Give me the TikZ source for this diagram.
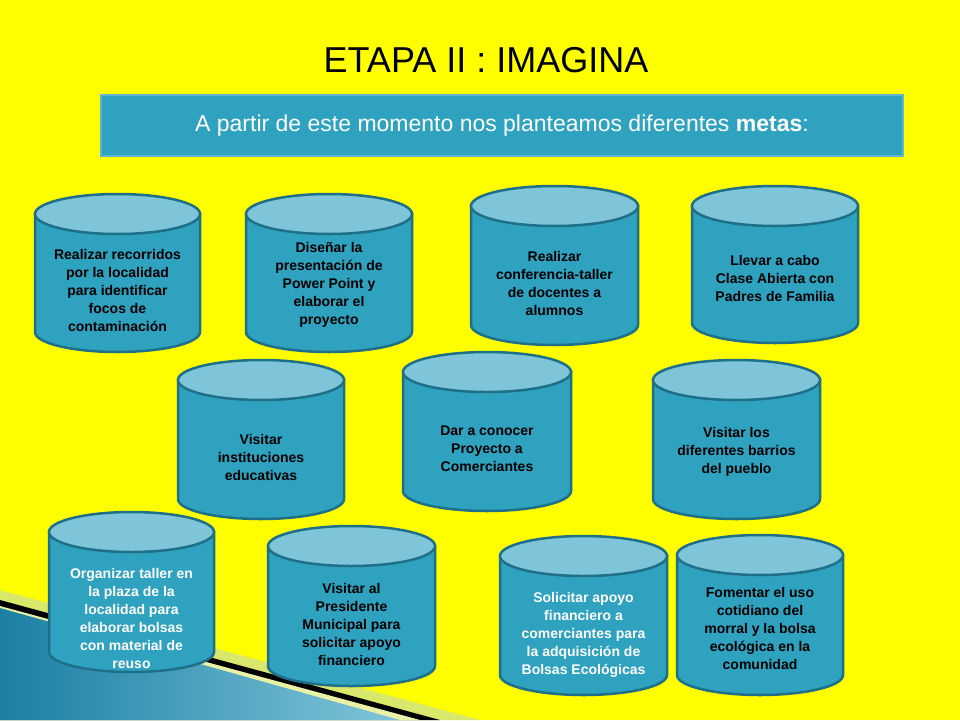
\documentclass[tikz,border=0pt]{standalone}
\usepackage{fontspec}
\setmainfont{Liberation Sans}
\begin{document}
\begin{tikzpicture}[x=1pt,y=-1pt,
  cylbody/.style={fill=cylblue,draw=cyledge,line width=2.5pt},
  cyltop/.style={fill=cyltopc,draw=cyledge,line width=2.5pt},
  cyltext/.style={font=\bfseries\fontsize{14}{18}\selectfont,align=center}]
\definecolor{bgy}{HTML}{FFFF00}
\definecolor{cylblue}{HTML}{2FA2C0}
\definecolor{cyltopc}{HTML}{7FC5D9}
\definecolor{cyledge}{HTML}{1E6F87}
\definecolor{bandblue}{HTML}{1C7FA3}
\definecolor{bandlight}{HTML}{D9E86A}
\useasboundingbox (0,0) rectangle (960,720);
\fill[bgy] (0,0) rectangle (960,720);
% bottom-left decoration
\fill[bandlight] (0,590) -- (480,720) -- (0,720) -- cycle;
\fill[black] (0,600) -- (440,720) -- (0,720) -- cycle;
\fill[bandlight!60!white] (0,606) -- (420,720) -- (0,720) -- cycle;
\shade[left color=bandblue, right color=cyltopc] (0,608) -- (400,720) -- (0,720) -- cycle;
\node (title) at (486,60) {\fontsize{36}{42}\selectfont ETAPA II : IMAGINA};
\node[draw=cyltopc!60!cylblue,line width=2pt,fill=cylblue,minimum width=802pt,minimum height=61pt,text=white,font=\fontsize{23}{27}\selectfont] (banner) at (502,125.5) {A partir de este momento nos planteamos diferentes \textbf{metas}:};
\newcommand{\cylnd}[8]{%
  \pgfmathsetmacro{\cx}{(#2+#3)/2}\pgfmathsetmacro{\rx}{(#3-#2)/2}
  \pgfmathsetmacro{\ty}{#4+20}\pgfmathsetmacro{\by}{#5-20}
  \path[cylbody] (#2,\ty) -- (#2,\by) arc[start angle=180,end angle=360,x radius=\rx,y radius=-20] -- (#3,\ty) -- cycle;
  \path[cyltop] (\cx,\ty) ellipse[x radius=\rx,y radius=20];
  \node[cyltext,text=#6] (#1) at (\cx,#7) {#8};}
\cylnd{c1}{35}{200}{194}{352}{black}{290}{Realizar recorridos\\por la localidad\\para identificar\\focos de\\contaminación}
\cylnd{c2}{246}{412}{194}{352}{black}{285}{Diseñar la\\presentación de\\Power Point y\\elaborar el\\proyecto}
\cylnd{c3}{471}{638}{186}{345}{black}{283}{Realizar\\conferencia-taller\\de docentes a\\alumnos}
\cylnd{c4}{692}{858}{186}{343}{black}{278}{Llevar a cabo\\Clase Abierta con\\Padres de Familia}
\cylnd{c5}{178}{344}{360}{519}{black}{457}{Visitar\\instituciones\\educativas}
\cylnd{c6}{403}{571}{352}{511}{black}{449}{Dar a conocer\\Proyecto a\\Comerciantes}
\cylnd{c7}{653}{820}{360}{519}{black}{452}{Visitar los\\diferentes barrios\\del pueblo}
\cylnd{c8}{49}{214}{512}{672}{white}{618}{Organizar taller en\\la plaza de la\\localidad para\\elaborar bolsas\\con material de\\reuso}
\cylnd{c9}{268}{435}{526}{686}{black}{624}{Visitar al\\Presidente\\Municipal para\\solicitar apoyo\\financiero}
\cylnd{c10}{500}{667}{536}{695}{white}{635}{Solicitar apoyo\\financiero a\\comerciantes para\\la adquisición de\\Bolsas Ecológicas}
\cylnd{c11}{677}{843}{535}{695}{black}{628}{Fomentar el uso\\cotidiano del\\morral y la bolsa\\ecológica en la\\comunidad}
\end{tikzpicture}
\end{document}
